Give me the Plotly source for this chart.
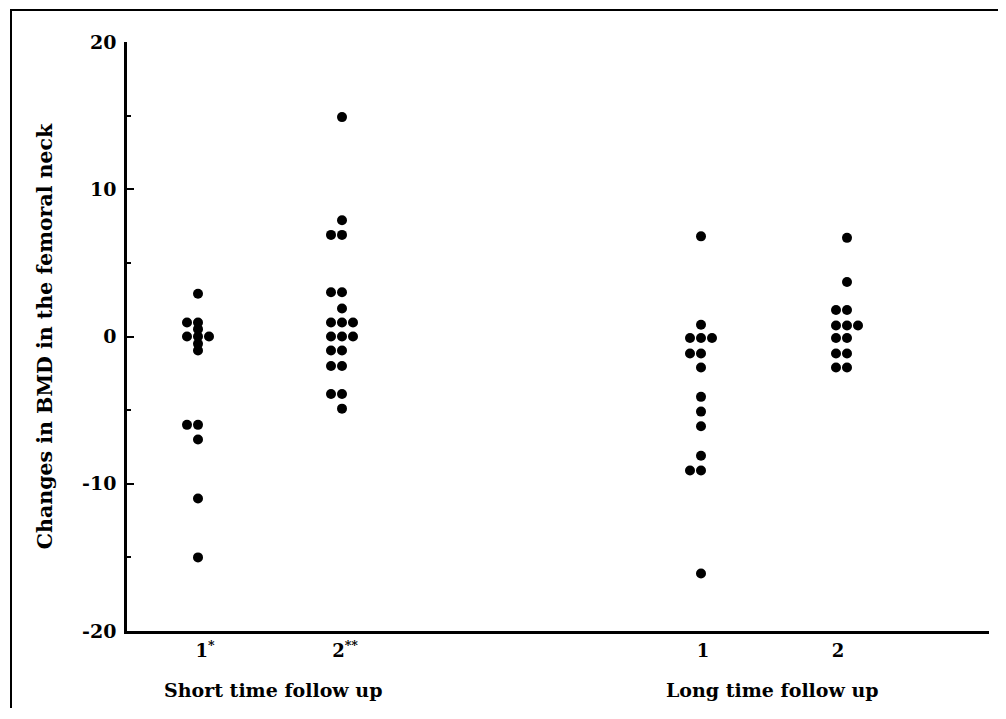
import plotly.graph_objects as go

# ---- data ----
groups = ["1<sup>*</sup>", "2<sup>**</sup>", "1", "2"]
periods = ["Short time follow up", "Long time follow up"]
y_ticks = [-20, -10, 0, 10, 20]
y_tick_text = ["-20", "-10", "0", "10", "20"]
y_title = "Changes in BMD in the femoral neck"

short_1 = [2.9, 0.95, 0.95, 0.5, 0, 0, 0, -0.5, -0.95, -6.0, -6.0, -7.0, -11.0, -15.0]
short_2 = [14.9, 7.9, 6.9, 6.9, 3.0, 3.0, 1.9, 0.95, 0.95, 0.95, 0, 0, 0,
           -0.95, -0.95, -2.0, -2.0, -3.9, -3.9, -4.9]
long_1 = [6.8, 0.8, -0.1, -0.1, -0.1, -1.15, -1.15, -2.1, -4.1, -5.1, -6.1,
          -8.1, -9.1, -9.1, -16.1]
long_2 = [6.7, 3.7, 1.8, 1.8, 0.75, 0.75, 0.75, -0.1, -0.1, -1.15, -1.15, -2.1, -2.1]

series = [short_1, short_2, long_1, long_2]

# ---- layout constants ----
group_pos = [71, 215, 574, 720]      # column centres on a 0..862 x scale
tick_pos = [78, 218, 576, 711]       # where the group labels sit
period_pos = [146, 645]
spacing = 11                         # spread of equal values
order_offsets = [0, -1, 1, -2, 2]    # centre, left, right, ...

FONT = "DejaVu Serif"
W, H = 990, 700
L, T, R, B = 119, 34, 9, 77
PW, PH = W - L - R, H - T - B

fig = go.Figure()
for pos, vals in zip(group_pos, series):
    seen = {}
    xs = []
    for v in vals:
        k = seen.get(v, 0)
        seen[v] = k + 1
        xs.append(pos + order_offsets[k] * spacing)
    fig.add_trace(go.Scatter(
        x=xs, y=vals, mode="markers",
        marker=dict(color="black", size=10, line=dict(width=0)),
        showlegend=False, hoverinfo="y"))

fig.update_layout(
    width=W, height=H, autosize=False,
    margin=dict(l=L, r=R, t=T, b=B),
    paper_bgcolor="white", plot_bgcolor="white",
    font=dict(family=FONT, size=16, color="black"),
    xaxis=dict(range=[0, 862], showgrid=False, zeroline=False,
               showline=True, linecolor="black", linewidth=2.5,
               tickmode="array", tickvals=tick_pos, ticktext=groups,
               ticks="", ticklabelstandoff=2,
               tickfont=dict(family=FONT, size=18, color="black", weight="bold")),
    yaxis=dict(range=[-20, 20], showgrid=False, zeroline=False,
               showline=True, linecolor="black", linewidth=2.5,
               tickmode="array", tickvals=y_ticks, ticktext=y_tick_text,
               ticks="inside", ticklen=7, tickwidth=2, tickcolor="black",
               ticklabelstandoff=4,
               minor=dict(tickmode="linear", tick0=-20, dtick=5, ticks="inside",
                          ticklen=4, tickwidth=1.5, tickcolor="black"),
               tickfont=dict(family=FONT, size=19, color="black", weight="bold"),
               title=dict(text=y_title,
                          font=dict(family=FONT, size=20.5, color="black",
                                    weight="bold"),
                          standoff=24)),
)

# period labels beneath the group ticks
for txt, xc in zip(periods, period_pos):
    fig.add_annotation(x=xc, xref="x", y=-59 / PH, yref="paper", yanchor="middle",
                       text=txt, showarrow=False,
                       font=dict(family=FONT, size=19, color="black",
                                 weight="bold"))

# outer frame of the figure (left and top edges visible)
fig.add_shape(type="rect", xref="paper", yref="paper",
              x0=(3 - L) / PW, x1=(W + 20 - L) / PW,
              y0=-(B + 20) / PH, y1=(PH + T - 2) / PH,
              line=dict(color="black", width=2), layer="below")

fig.write_html("out.html")
